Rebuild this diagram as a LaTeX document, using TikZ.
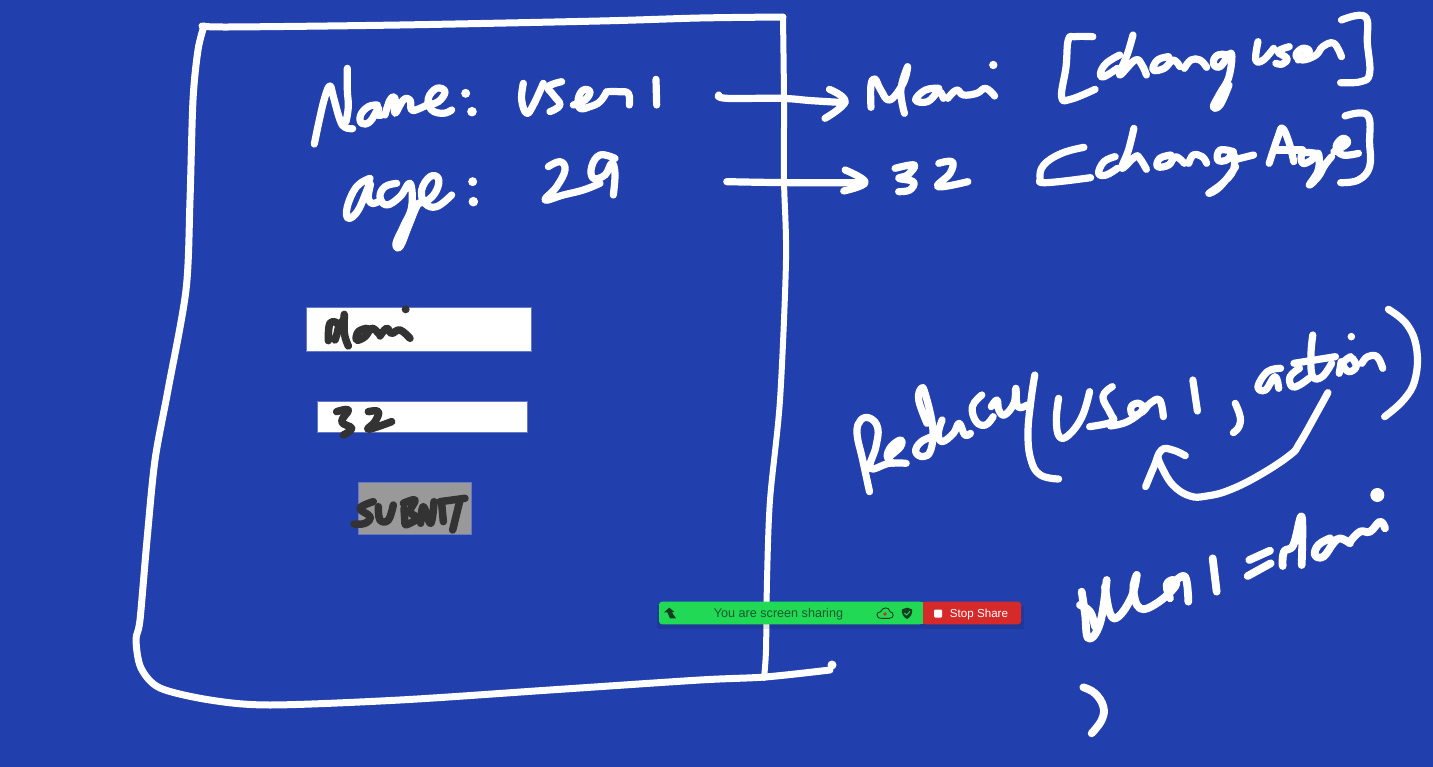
\documentclass[tikz,border=0pt]{standalone}
\usepackage{fontspec}
\setmainfont{Liberation Sans}
\definecolor{board}{HTML}{2240AD}
\definecolor{inkdark}{HTML}{333333}
\definecolor{barg}{HTML}{22D955}
\definecolor{barr}{HTML}{D62A2A}
\definecolor{bart}{HTML}{17592F}
\definecolor{iconk}{HTML}{123F22}
\newcommand\hw[1]{\draw[ink] plot[smooth,tension=0.7] coordinates {#1};}
\newcommand\hd[1]{\draw[inkd] plot[smooth,tension=0.7] coordinates {#1};}
\tikzset{
 ink/.style={white,line width=7.2pt,line cap=round,line join=round},
 inkd/.style={inkdark,line width=7.5pt,line cap=round,line join=round},
 zoomed/.style={x=.33333pt,y=-.33333pt},
 barlabel/.style={font=\fontsize{12.6pt}{14pt}\selectfont,inner sep=0pt,anchor=center}
}
\begin{document}
\begin{tikzpicture}[x=1pt,y=-1pt]
\useasboundingbox (0,0) rectangle (1433,767);
\fill[board] (0,0) rectangle (1433,767);
% frame
\draw[ink,line width=7pt] plot[smooth,tension=0.5] coordinates {(204,26)(198,50)(193,100)(190,200)(186,290)(168,390)(155,460)(147,540)(140,620)(136,640)(141,668)(160,688)(210,700)(270,705)(400,700)(550,690)(700,680)(765,677)(830,670)};
\fill[white] (832,665) circle[radius=4.5pt];
\draw[ink,line width=7pt] plot[smooth,tension=0.5] coordinates {(202,26)(230,27)(400,25)(600,21)(700,18)(783,17)};
\draw[ink,line width=6pt] plot[smooth,tension=0.5] coordinates {(783,17)(784,100)(784,180)(786,260)(780,400)(770,500)(767,580)(766,650)(764,678)};
% Name / age
\begin{scope}[shift={(290,50)},zoomed]
\hw{(73,282)(88,210)(105,140)(120,108)(130,140)(150,210)(165,232)(188,236)}
\hw{(172,55)(172,120)(175,170)(168,215)}
\hw{(262,165)(235,170)(212,195)(215,220)(240,215)(265,175)(262,195)(275,195)}
\hw{(285,195)(300,150)(315,145)(315,190)(340,150)(360,150)(365,180)(390,175)(410,165)}
\hw{(410,165)(445,155)(465,125)(440,115)(415,145)(425,180)(460,190)(485,180)}
\fill[white] (527,130) circle[radius=4.5pt];
\fill[white] (546,185) circle[radius=4.8pt];
\hw{(700,100)(695,150)(710,190)(730,165)(760,100)}
\hw{(815,95)(775,110)(790,135)(810,165)(780,185)}
\hw{(850,165)(885,150)(900,125)(880,120)(865,145)(870,175)(900,170)(930,155)(950,125)}
\hw{(955,125)(985,125)(1015,130)(1018,165)}
\hw{(1098,88)(1100,165)}
\hw{(240,385)(200,410)(172,470)(175,505)(205,480)(240,400)(235,440)(245,460)(265,455)}
\hw{(320,400)(285,410)(270,440)(290,465)(330,440)(360,400)(365,470)(340,530)(318,580)(330,590)(355,530)(375,480)(385,460)}
\hw{(385,460)(415,450)(440,420)(445,385)(420,380)(395,420)(405,460)(440,470)(485,435)}
\fill[white] (548,395) circle[radius=4.5pt];
\fill[white] (550,455) circle[radius=4.8pt];
\hw{(775,350)(810,335)(825,360)(800,410)(765,450)(820,435)(880,420)(930,400)}
\hw{(975,325)(930,315)(905,350)(910,385)(945,375)(965,340)(975,370)(970,435)}
\end{scope}
% top right
\begin{scope}[shift={(700,10)},x=.4464pt,y=-.33333pt]
\hw{(42,255)(60,265)(180,265)(250,272)(325,278)}
\hw{(290,238)(325,275)(280,325)}
\hw{(383,292)(383,225)(392,207)(405,240)(425,270)(455,220)(465,170)(450,240)(458,310)}
\hw{(535,235)(505,240)(483,270)(510,275)(535,245)(545,265)}
\hw{(555,265)(575,240)(590,255)(620,250)(640,235)(660,258)}
\fill[white] (657,165) circle[radius=4.2pt];
\hw{(880,80)(840,80)(825,90)(820,170)(810,260)(830,268)(885,238)}
\hw{(940,135)(910,160)(897,190)(905,200)(935,175)}
\hw{(970,75)(958,130)(940,195)(975,150)(990,165)(1000,195)}
\hw{(1050,140)(1025,150)(1015,180)(1040,175)(1060,150)(1075,170)}
\hw{(1085,175)(1100,150)(1120,150)(1135,172)}
\hw{(1190,135)(1160,135)(1150,160)(1165,170)(1190,130)(1185,200)(1165,250)(1150,290)(1165,285)(1185,225)}
\hw{(1250,95)(1245,150)(1262,150)(1285,115)}
\hw{(1320,110)(1295,125)(1315,145)(1305,162)(1290,160)}
\hw{(1340,150)(1365,125)(1350,115)(1335,135)(1350,150)(1380,135)(1395,110)(1420,100)(1437,140)}
\hw{(1437,30)(1490,20)(1495,100)(1500,190)(1480,215)(1435,218)}
\hw{(60,515)(200,518)(365,518)}
\hw{(325,480)(370,517)(322,543)}
\hw{(437,475)(480,465)(465,495)(445,505)(478,515)(470,540)(445,545)}
\hw{(535,460)(565,455)(560,490)(533,530)(600,515)}
\hw{(860,412)(810,430)(770,465)(762,505)(775,518)(875,503)}
\hw{(930,440)(905,455)(893,490)(910,495)(935,475)}
\hw{(972,355)(960,420)(945,475)(975,440)(985,445)(1000,478)}
\hw{(1055,435)(1030,445)(1025,470)(1050,465)(1065,440)(1085,460)}
\hw{(1095,460)(1105,435)(1125,440)(1135,460)}
\hw{(1195,425)(1165,420)(1160,450)(1180,450)(1195,430)(1195,480)(1170,520)(1140,550)(1165,530)(1200,470)}
\hw{(1195,450)(1240,435)}
\hw{(1275,460)(1295,380)(1305,355)(1320,400)(1330,455)}
\hw{(1290,420)(1350,420)}
\hw{(1380,430)(1350,430)(1350,460)(1370,450)(1385,430)(1385,480)(1365,525)(1385,500)(1400,465)(1415,440)}
\hw{(1420,425)(1450,400)(1440,385)(1425,410)(1440,435)(1475,430)}
\hw{(1445,318)(1495,315)(1500,400)(1500,470)(1475,510)(1435,518)}
\end{scope}
% reducer
\begin{scope}[shift={(840,300)},x=.3782pt,y=-.33333pt]
\hw{(78,575)(60,480)(45,400)(55,360)(80,355)(100,385)(95,440)(80,505)(130,490)(175,490)}
\hw{(130,470)(160,440)(160,420)(135,440)(125,470)(140,490)}
\hw{(255,405)(215,425)(200,455)(220,470)(240,450)(245,380)(225,280)(215,265)(208,300)(230,370)}
\hw{(270,360)(260,400)(270,425)(300,400)(315,370)(330,405)(345,400)}
\hw{(375,285)(350,320)(360,365)(385,375)(405,350)}
\hw{(400,320)(415,300)(420,330)(435,345)(460,310)(465,265)(470,320)(495,315)}
\hw{(515,225)(505,300)(497,400)(505,480)(530,525)(578,537)}
\hw{(578,295)(572,360)(580,410)(605,405)(640,350)(660,275)}
\hw{(720,260)(695,290)(715,340)(720,365)(660,380)}
\hw{(715,378)(760,365)(800,330)(790,310)(770,320)(775,345)(800,335)(820,310)(845,300)(855,350)}
\hw{(933,240)(945,333)}
\hw{(1045,310)(1058,350)(1055,380)(1040,398)}
\hw{(1165,205)(1130,215)(1105,260)(1125,270)(1150,230)(1160,265)}
\hw{(1215,205)(1190,230)(1195,260)(1215,255)(1240,235)}
\hw{(1250,105)(1245,170)(1250,230)(1275,230)(1300,190)}
\hw{(1200,190)(1310,170)}
\hw{(1325,185)(1320,220)}
\fill[white] (1352,110) circle[radius=3.8pt];
\hw{(1350,170)(1330,190)(1345,215)(1365,200)(1355,175)}
\hw{(1380,190)(1395,170)(1420,170)(1435,205)}
\hw{(1450,28)(1500,75)(1525,150)(1520,240)(1490,300)(1440,350)}
\hw{(1290,278)(1260,340)(1215,430)(1190,465)(1110,525)(1030,570)(970,588)(925,588)(880,555)(850,500)(840,470)}
\hw{(808,560)(830,500)(850,450)(880,450)(913,467)}
\end{scope}
% user1 = Mani
\begin{scope}[shift={(1060,480)},zoomed,ink/.append style={line width=7.8pt}]
\fill[white] (952,45) circle[radius=7pt];
\hw{(65,335)(75,400)(85,475)(120,430)(140,300)}
\hw{(60,375)(90,395)(105,440)}
\hw{(135,320)(150,400)(175,410)(215,350)(230,285)}
\hw{(230,285)(220,330)(240,385)(290,370)(345,320)(340,300)(320,315)(330,355)}
\hw{(340,310)(375,290)(385,365)}
\hw{(458,235)(470,335)}
\hw{(568,240)(630,212)}
\hw{(563,288)(632,250)}
\hw{(668,258)(672,215)(700,195)(725,110)(725,255)}
\hw{(810,175)(775,195)(765,225)(790,230)(820,190)(840,175)(870,190)}
\hw{(870,185)(900,155)(930,155)(960,125)(975,145)}
\hw{(70,622)(105,640)(130,680)(125,720)(95,760)}
\end{scope}
% form
\node[draw=board!70!white,line width=.6pt,fill=white,minimum width=225pt,minimum height=44.6pt,inner sep=0pt,anchor=north west] (namebox) at (306.3,306.7) {};
\node[draw=board!70!white,line width=.6pt,fill=white,minimum width=210pt,minimum height=31.6pt,inner sep=0pt,anchor=north west] (agebox) at (317.3,400.7) {};
\node[draw=board!70!white,line width=.6pt,fill=black!40,minimum width=113.6pt,minimum height=52.6pt,inner sep=0pt,anchor=north west] (submitbox) at (357.7,481.7) {};
\begin{scope}[shift={(300,300)},zoomed]
\hd{(85,122)(90,70)(115,75)(105,120)}
\hd{(115,75)(130,60)(133,45)(133,100)(145,138)}
\hd{(200,85)(175,95)(170,120)(195,110)(215,85)(235,100)}
\hd{(240,108)(260,85)(275,100)(300,90)(330,115)}
\fill[inkdark] (317,28) circle[radius=4pt];
\hd{(110,335)(145,330)(125,365)(155,385)(130,405)}
\hd{(205,335)(235,335)(225,365)(205,388)(275,365)}
\hd{(220,605)(180,625)(210,650)(195,670)(162,672)}
\hd{(235,620)(240,660)(265,660)(280,615)}
\hd{(312,625)(315,672)}
\hd{(310,610)(345,600)(330,635)(352,655)(318,675)}
\hd{(362,670)(370,620)(392,670)(402,605)}
\hd{(425,610)(430,665)}
\hd{(420,605)(495,595)}
\hd{(480,600)(458,690)}
\end{scope}
% share bar
\fill[black,opacity=.10] (657,606) rectangle (1024,629);
\fill[barg,rounded corners=3pt] (659,601.7) -- (923,601.7) -- (923,624.3) -- (659,624.3) -- cycle;
\fill[barr,rounded corners=3pt] (923,601.7) -- (1021,601.7) -- (1021,624.3) -- (923,624.3) -- cycle;
\fill[barr] (923,601.7) rectangle (930,624.3);
\fill[barg] (915,601.7) rectangle (923,624.3);
\node[barlabel,text=bart] (sharelabel) at (778.5,613.8) {You are screen sharing};
\node[barlabel,text=white,font=\fontsize{11.6pt}{13pt}\selectfont] (stoplabel) at (979,614) {Stop Share};
\fill[white,rounded corners=1pt] (934,609.5) rectangle (942,617.5);
\begin{scope}[shift={(650,595)},zoomed]
% back arrow
\fill[iconk] (42,52) -- (58,38) -- (72,50) -- (66,52) -- (78,70) -- (60,70) -- (52,52) -- cycle;
% cloud
\draw[iconk,line width=.9pt] (695,70) .. controls (675,70) and (678,50) .. (692,50) .. controls (697,35) and (718,35) .. (720,50) .. controls (734,52) and (732,70) .. (718,70) -- cycle;
\fill[barr] (705,57) circle[radius=1.9pt];
% shield
\fill[iconk] (772,38) -- (786,43) .. controls (788,58) and (782,66) .. (771,72) .. controls (760,66) and (754,58) .. (756,43) -- cycle;
\draw[barg,line width=.9pt] (763,54) -- (770,60) -- (780,49);
\end{scope}
\end{tikzpicture}
\end{document}
